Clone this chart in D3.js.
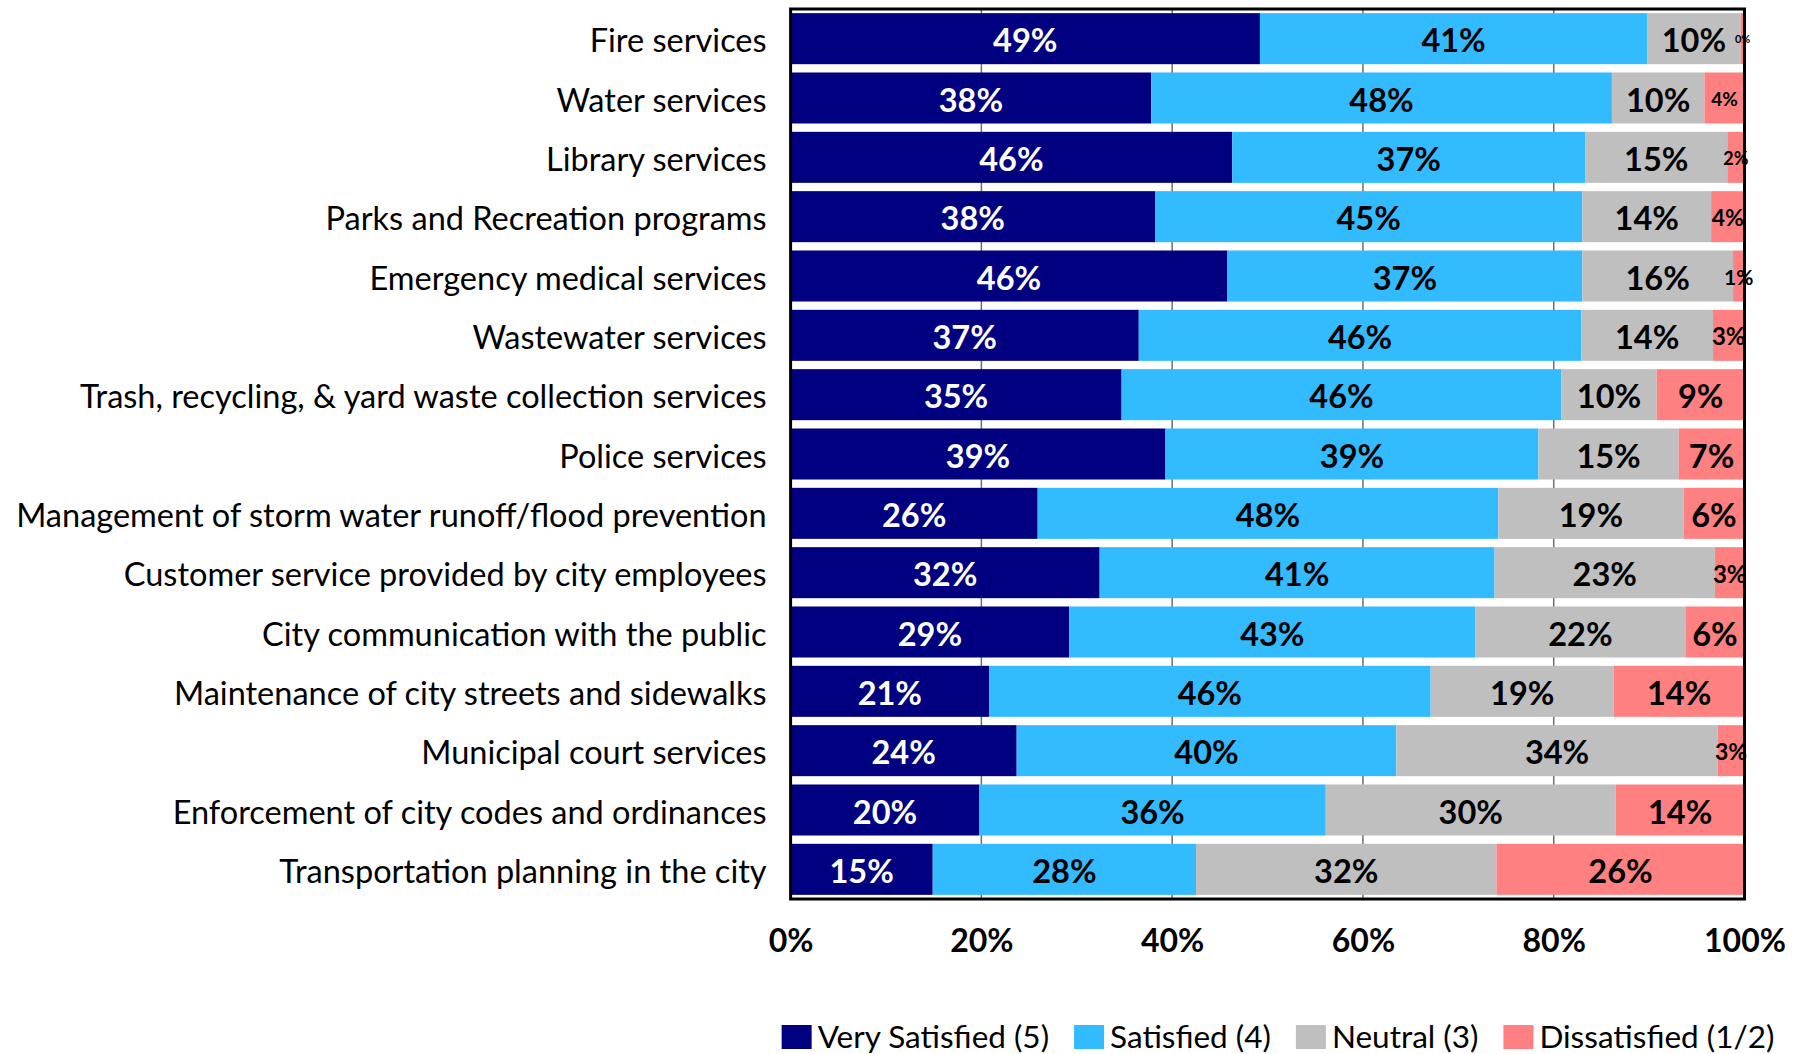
<!DOCTYPE html>
<html>
<head>
<meta charset="utf-8">
<script src="https://cdn.jsdelivr.net/npm/d3@7"></script>
<style>
  html, body { margin: 0; padding: 0; background: #fff; }
  svg { display: block; font-family: Lato, "Open Sans", sans-serif; }
</style>
</head>
<body>
<svg id="chart" width="1802" height="1054"></svg>
<script>
// Resident satisfaction with city services (percent of respondents)
const categories = [
  "Fire services",
  "Water services",
  "Library services",
  "Parks and Recreation programs",
  "Emergency medical services",
  "Wastewater services",
  "Trash, recycling, & yard waste collection services",
  "Police services",
  "Management of storm water runoff/flood prevention",
  "Customer service provided by city employees",
  "City communication with the public",
  "Maintenance of city streets and sidewalks",
  "Municipal court services",
  "Enforcement of city codes and ordinances",
  "Transportation planning in the city"
];
const verySatisfied = [49.2, 37.8, 46.3, 38.2, 45.8, 36.5, 34.7, 39.3, 25.9, 32.4, 29.2, 20.8, 23.7, 19.8, 14.9];
const satisfied     = [40.6, 48.3, 37.0, 44.8, 37.2, 46.4, 46.1, 39.1, 48.3, 41.4, 42.6, 46.3, 39.8, 36.3, 27.6];
const neutral       = [ 9.8,  9.7, 14.9, 13.5, 15.8, 13.8, 10.0, 14.7, 19.4, 23.1, 22.0, 19.2, 33.7, 30.4, 31.5];
const dissatisfied  = [ 0.4,  4.2,  1.8,  3.5,  1.2,  3.3,  9.2,  6.9,  6.4,  3.1,  6.2, 13.7,  2.8, 13.5, 26.0];
const seriesNames = ["Very Satisfied (5)", "Satisfied (4)", "Neutral (3)", "Dissatisfied (1/2)"];
const tickValues = [0, 20, 40, 60, 80, 100];

const keys = ["vs", "s", "n", "d"];
const colors = { vs: "#000080", s: "#33BBFF", n: "#BFBFBF", d: "#FF8080" };
const labelColors = { vs: "#FFFFFF", s: "#000000", n: "#000000", d: "#000000" };

// Narrow slivers carry smaller value labels
const smallLabelSize = {
  "Fire services": 11,
  "Water services": 19,
  "Library services": 18,
  "Parks and Recreation programs": 23,
  "Emergency medical services": 21,
  "Wastewater services": 24,
  "Customer service provided by city employees": 24,
  "Municipal court services": 23
};

const rows = categories.map((c, i) => ({
  category: c,
  vs: verySatisfied[i], s: satisfied[i], n: neutral[i], d: dissatisfied[i]
}));

const svg = d3.select("#chart");
const plot = { left: 790.6, right: 1744.5, top: 9, bottom: 899 };

const x = d3.scaleLinear().domain([0, 100]).range([plot.left, plot.right]);
const y = d3.scaleBand().domain(categories).range([plot.top, plot.bottom])
  .paddingInner(0.14).paddingOuter(0.07);

// Vertical gridlines behind the bars
svg.append("g")
  .selectAll("line")
  .data(tickValues.filter(t => t > 0 && t < 100))
  .join("line")
  .attr("x1", d => x(d)).attr("x2", d => x(d))
  .attr("y1", plot.top).attr("y2", plot.bottom)
  .attr("stroke", "#6e6e6e").attr("stroke-width", 1.5);

const stacked = d3.stack().keys(keys)(rows);

const layers = svg.append("g")
  .selectAll("g")
  .data(stacked)
  .join("g")
  .attr("fill", d => colors[d.key]);

layers.selectAll("rect")
  .data(d => d)
  .join("rect")
  .attr("x", d => x(d[0]))
  .attr("y", d => y(d.data.category))
  .attr("width", d => x(d[1]) - x(d[0]))
  .attr("height", y.bandwidth());

// Plot frame
svg.append("rect")
  .attr("x", plot.left).attr("y", plot.top)
  .attr("width", plot.right - plot.left).attr("height", plot.bottom - plot.top)
  .attr("fill", "none").attr("stroke", "#000").attr("stroke-width", 3);

// Value labels centred in each segment
const labelGroup = svg.append("g")
  .attr("font-weight", "bold")
  .attr("text-anchor", "middle");

stacked.forEach(layer => {
  labelGroup.selectAll(null)
    .data(layer)
    .join("text")
    .attr("x", d => x((d[0] + d[1]) / 2))
    .attr("y", d => y(d.data.category) + y.bandwidth() / 2)
    .attr("dy", "0.42em")
    .attr("fill", labelColors[layer.key])
    .attr("font-size", d => (layer.key === "d" && smallLabelSize[d.data.category]) || 32.5)
    .text(d => Math.round(d[1] - d[0]) + "%");
});

// Category axis
const yAxis = svg.append("g")
  .attr("transform", `translate(${plot.left},0)`)
  .call(d3.axisLeft(y).tickSize(0).tickPadding(24));
yAxis.select(".domain").remove();
yAxis.selectAll("text")
  .attr("dy", "0.42em")
  .attr("font-family", "Lato, 'Open Sans', sans-serif")
  .attr("font-size", 32.5)
  .attr("fill", "#000");

// Percentage axis
const xAxis = svg.append("g")
  .attr("transform", `translate(0,${plot.bottom})`)
  .call(d3.axisBottom(x).tickValues(tickValues).tickSize(0).tickFormat(d => d + "%"));
xAxis.select(".domain").remove();
xAxis.selectAll("text")
  .attr("y", 41).attr("dy", "0.36em")
  .attr("font-family", "Lato, 'Open Sans', sans-serif")
  .attr("font-size", 32)
  .attr("font-weight", "bold")
  .attr("fill", "#000");

// Legend, centred under the chart
const legend = svg.append("g").attr("font-size", 31.5);
const items = legend.selectAll("g")
  .data(keys)
  .join("g");
items.append("rect")
  .attr("width", 30).attr("height", 24)
  .attr("y", -12)
  .attr("fill", d => colors[d]);
items.append("text")
  .attr("x", 36).attr("dy", "0.36em")
  .attr("fill", "#000")
  .text((d, i) => seriesNames[i]);

let cursor = 0;
items.each(function () {
  const g = d3.select(this);
  g.attr("transform", `translate(${cursor},0)`);
  const w = 36 + g.select("text").node().getComputedTextLength();
  cursor += w + 25;
});
const legendWidth = cursor - 25;
legend.attr("transform", `translate(${1278 - legendWidth / 2},1037)`);
</script>
</body>
</html>
